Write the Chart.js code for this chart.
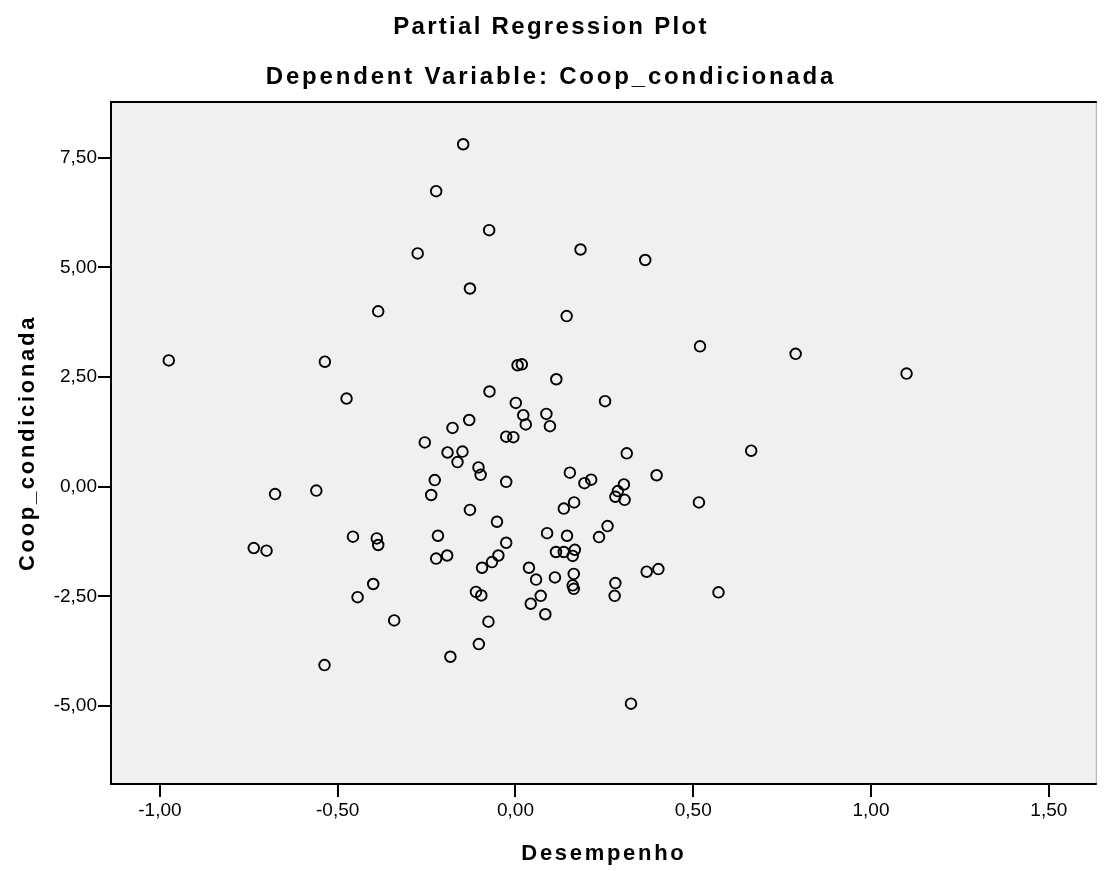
<!DOCTYPE html>
<html>
<head>
<meta charset="utf-8">
<script src="https://cdn.jsdelivr.net/npm/chart.js@4.4.1/dist/chart.umd.min.js"></script>
<style>
html, body { margin: 0; padding: 0; background: #fff; }
</style>
</head>
<body>
<canvas id="grafik" width="1104" height="871"></canvas>
<script>
// data titik (Desempenho, Coop_condicionada)
var desempenho = [
    -0.147, -0.223, -0.074, 0.183, -0.275, 0.365, -0.128, -0.386, 0.144, 0.519,
    0.788, -0.975, -0.536, 0.006, 0.018, 1.100, 0.115, -0.073, -0.475, 0.252,
    0.001, 0.087, 0.022, -0.130, 0.029, 0.097, -0.177, -0.026, -0.006, -0.255,
    -0.191, -0.149, 0.663, 0.313, -0.163, -0.104, 0.153, -0.098, 0.397, 0.213,
    -0.227, -0.026, 0.194, 0.305, -0.560, 0.288, -0.676, -0.237, 0.281, 0.307,
    0.165, 0.516, 0.136, -0.128, -0.052, 0.259, 0.089, -0.218, 0.145, -0.457,
    0.235, -0.390, -0.026, -0.386, -0.736, 0.167, -0.700, 0.114, 0.136, -0.192,
    -0.048, 0.161, -0.223, -0.066, -0.094, 0.038, 0.402, 0.369, 0.164, 0.111,
    0.058, 0.281, -0.400, 0.161, 0.164, -0.111, 0.571, -0.096, 0.071, 0.279,
    -0.444, 0.043, 0.084, -0.341, -0.076, -0.103, -0.183, -0.537, 0.325
];
var coop = [
    7.81, 6.74, 5.85, 5.41, 5.32, 5.17, 4.52, 4.00, 3.89, 3.20,
    3.03, 2.88, 2.85, 2.77, 2.79, 2.58, 2.45, 2.17, 2.01, 1.95,
    1.91, 1.66, 1.63, 1.52, 1.42, 1.38, 1.34, 1.14, 1.13, 1.01,
    0.78, 0.80, 0.82, 0.76, 0.56, 0.44, 0.32, 0.27, 0.26, 0.16,
    0.15, 0.11, 0.08, 0.05, -0.09, -0.10, -0.17, -0.19, -0.23, -0.30,
    -0.36, -0.36, -0.50, -0.53, -0.80, -0.90, -1.06, -1.12, -1.12, -1.14,
    -1.15, -1.18, -1.28, -1.33, -1.40, -1.44, -1.46, -1.49, -1.49, -1.57,
    -1.57, -1.58, -1.64, -1.72, -1.85, -1.85, -1.88, -1.94, -1.99, -2.07,
    -2.12, -2.20, -2.22, -2.25, -2.33, -2.40, -2.41, -2.48, -2.49, -2.49,
    -2.52, -2.67, -2.91, -3.05, -3.08, -3.59, -3.88, -4.07, -4.95
];
var xTicks = [-1.0, -0.5, 0.0, 0.5, 1.0, 1.5];
var yTicks = [-5.0, -2.5, 0.0, 2.5, 5.0, 7.5];

var judul = 'Partial Regression Plot';
var subjudul = 'Dependent Variable: Coop_condicionada';
var judulX = 'Desempenho';
var judulY = 'Coop_condicionada';

// gabungkan jadi titik
var titik = [];
for (var i = 0; i < desempenho.length; i++) {
    titik.push({ x: desempenho[i], y: coop[i] });
}

// format angka pakai koma
function koma(v) {
    return Number(v).toFixed(2).replace('.', ',');
}

var fontTeks = '"Liberation Sans", Arial, sans-serif';

// latar abu-abu, bingkai dan judul
const plotBingkai = {
    id: 'plotBingkai',
    beforeDraw: function(chart) {
        var ctx = chart.ctx;
        var a = chart.chartArea;
        ctx.save();
        ctx.fillStyle = '#f0f0f0';
        ctx.fillRect(a.left, a.top, a.right - a.left, a.bottom - a.top);
        ctx.restore();
    },
    afterDraw: function(chart) {
        var ctx = chart.ctx;
        var a = chart.chartArea;
        ctx.save();
        // sisi kanan abu-abu
        ctx.strokeStyle = '#a8a8a8';
        ctx.lineWidth = 1;
        ctx.beginPath();
        ctx.moveTo(a.right - 0.5, a.top);
        ctx.lineTo(a.right - 0.5, a.bottom);
        ctx.stroke();
        // sisi lain hitam
        ctx.strokeStyle = '#000';
        ctx.lineWidth = 2;
        ctx.beginPath();
        ctx.moveTo(a.right, a.top);
        ctx.lineTo(a.left, a.top);
        ctx.lineTo(a.left, a.bottom);
        ctx.lineTo(a.right, a.bottom);
        ctx.stroke();

        // judul
        ctx.fillStyle = '#000';
        ctx.textAlign = 'center';
        ctx.textBaseline = 'alphabetic';
        ctx.font = 'bold 24px ' + fontTeks;
        ctx.letterSpacing = '2.3px';
        ctx.fillText(judul, 551, 34);
        ctx.letterSpacing = '2.8px';
        ctx.fillText(subjudul, 551, 84);

        // judul sumbu
        ctx.letterSpacing = '2.7px';
        ctx.font = 'bold 22px ' + fontTeks;
        ctx.fillText(judulX, (a.left + a.right) / 2, 860);
        ctx.translate(34, (a.top + a.bottom) / 2);
        ctx.rotate(-Math.PI / 2);
        ctx.fillText(judulY, 0, 0);
        ctx.restore();
    }
};

const config = {
    type: 'scatter',
    data: {
        datasets: [{
            label: judulY,
            data: titik,
            pointStyle: 'circle',
            pointRadius: 5.3,
            pointHoverRadius: 5.3,
            borderWidth: 1.9,
            borderColor: '#000',
            backgroundColor: 'rgba(0,0,0,0)'
        }]
    },
    options: {
        responsive: false,
        animation: false,
        devicePixelRatio: 1,
        layout: { padding: { top: 102, right: 1, left: 0, bottom: 0 } },
        plugins: {
            legend: { display: false },
            tooltip: { enabled: false },
            title: { display: false }
        },
        scales: {
            x: {
                type: 'linear',
                min: -1.1375,
                max: 1.635,
                afterBuildTicks: function(s) {
                    s.ticks = xTicks.map(function(v) { return { value: v }; });
                },
                afterFit: function(s) { s.height = 87; },
                border: { display: false },
                grid: {
                    drawOnChartArea: false,
                    drawTicks: true,
                    tickLength: 13,
                    color: '#000',
                    lineWidth: 2
                },
                ticks: {
                    color: '#000',
                    padding: 2,
                    maxRotation: 0,
                    font: { family: fontTeks, size: 19 },
                    callback: function(v) { return koma(v); }
                }
            },
            y: {
                type: 'linear',
                min: -6.782,
                max: 8.774,
                afterBuildTicks: function(s) {
                    s.ticks = yTicks.map(function(v) { return { value: v }; });
                },
                afterFit: function(s) { s.width = 111; },
                border: { display: false },
                grid: {
                    drawOnChartArea: false,
                    drawTicks: true,
                    tickLength: 13,
                    color: '#000',
                    lineWidth: 2
                },
                ticks: {
                    color: '#000',
                    padding: 1,
                    font: { family: fontTeks, size: 19 },
                    callback: function(v) { return koma(v); }
                }
            }
        }
    },
    plugins: [plotBingkai]
};

const myChart = new Chart(document.getElementById('grafik'), config);
</script>
</body>
</html>
